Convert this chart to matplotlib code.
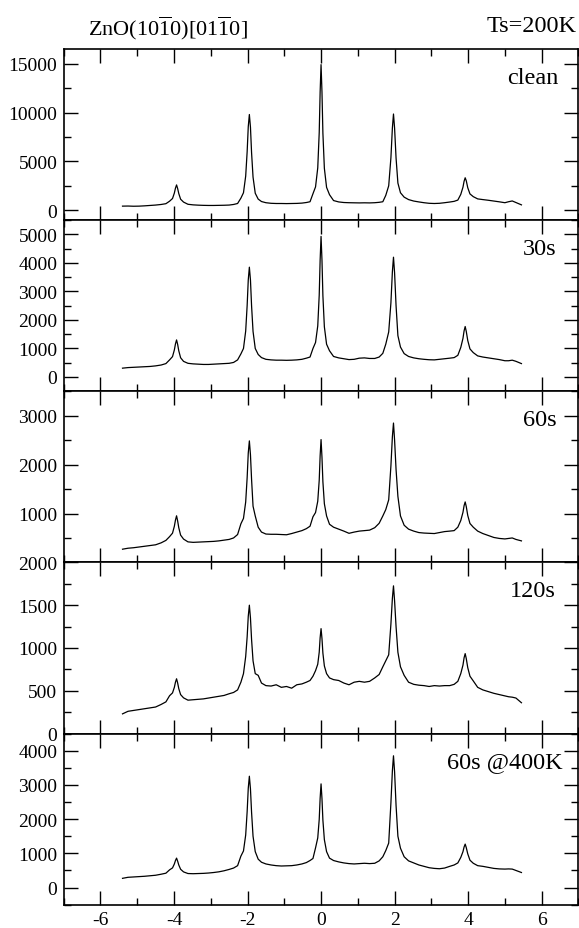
import matplotlib
matplotlib.use('Agg')
import matplotlib.pyplot as plt
from matplotlib.ticker import MultipleLocator

plt.rcParams['font.family'] = ['Liberation Serif', 'DejaVu Serif']
plt.rcParams['mathtext.fontset'] = 'custom'
plt.rcParams['mathtext.rm'] = 'Liberation Serif'

# scan position (shared by all scans)
x = [-5.40, -5.25, -5.10, -4.95, -4.80, -4.65, -4.50, -4.35, -4.22,
     -4.12, -4.04, -3.99, -3.96, -3.93, -3.90, -3.87, -3.82, -3.74,
     -3.62, -3.48, -3.34, -3.20, -3.06, -2.92, -2.78, -2.64, -2.50, -2.38, -2.27,
     -2.18, -2.11, -2.05, -2.01, -1.98, -1.95, -1.92, -1.89, -1.85, -1.79, -1.71, -1.62,
     -1.50, -1.36, -1.22, -1.08, -0.94, -0.80, -0.66, -0.52, -0.40, -0.30,
     -0.22, -0.15, -0.09, -0.05, -0.025, 0.0, 0.025, 0.05, 0.09, 0.15, 0.23,
     0.34, 0.48, 0.62, 0.76, 0.90, 1.04, 1.18, 1.32, 1.46, 1.58, 1.68,
     1.76, 1.84, 1.90, 1.94, 1.97, 2.00, 2.04, 2.09, 2.16, 2.26,
     2.38, 2.52, 2.66, 2.80, 2.94, 3.08, 3.22, 3.36, 3.50, 3.62, 3.72,
     3.80, 3.86, 3.89, 3.92, 3.95, 3.99, 4.05, 4.14,
     4.26, 4.40, 4.55, 4.70, 4.85, 5.00, 5.10, 5.20, 5.30, 5.45]

clean = [430, 440, 420, 430, 460, 500, 540, 600, 680,
         935, 1210, 1770, 2270, 2600, 2220, 1720, 1140, 845,
         620, 560, 530, 510, 500, 500, 510, 520, 540, 600, 700,
         1250, 1800, 3500, 6000, 8550, 9800, 8500, 5900, 3400, 1750, 1150, 900,
         780, 720, 700, 700, 690, 700, 710, 740, 800, 880,
         1700, 2400, 4340, 7950, 12100, 14900, 12100, 7900, 4300, 2350, 1600,
         1000, 860, 800, 780, 770, 760, 770, 760, 780, 820, 880,
         1530, 2510, 5380, 8420, 9850, 8400, 5350, 2790, 1800, 1350,
         1100, 950, 860, 780, 720, 700, 720, 780, 850, 920, 1050,
         1630, 2370, 2970, 3330, 3020, 2315, 1680, 1400,
         1170, 1100, 1030, 950, 870, 780, 880, 960, 800, 560]

s30 = [310, 330, 340, 350, 360, 370, 390, 420, 470,
       600, 715, 950, 1160, 1300, 1140, 920, 675, 548,
       480, 460, 450, 440, 440, 450, 460, 470, 480, 510, 600,
       810, 1000, 1610, 2510, 3400, 3850, 3400, 2500, 1600, 1000, 790, 680,
       620, 600, 590, 590, 585, 590, 600, 620, 660, 700,
       1000, 1210, 1790, 2870, 4100, 4930, 4100, 2850, 1760, 1150, 920,
       720, 670, 640, 610, 620, 660, 670, 650, 650, 700, 830,
       1150, 1580, 2600, 3690, 4200, 3650, 2500, 1450, 1050, 820,
       720, 670, 640, 620, 605, 600, 620, 640, 660, 680, 760,
       1035, 1355, 1615, 1770, 1595, 1280, 985, 855,
       740, 700, 670, 640, 610, 570, 570, 590, 550, 470]

s60 = [270, 290, 300, 315, 330, 345, 360, 400, 450,
       527, 598, 740, 865, 953, 845, 710, 558, 477,
       420, 410, 415, 420, 425, 430, 440, 455, 470, 500, 570,
       790, 900, 1235, 1735, 2235, 2485, 2200, 1700, 1150, 950, 720, 620,
       580, 575, 575, 570, 565, 590, 620, 650, 690, 740,
       933, 1020, 1250, 1680, 2180, 2512, 2150, 1650, 1200, 950, 780,
       720, 680, 640, 595, 620, 640, 650, 660, 710, 800, 950,
       1080, 1280, 1975, 2570, 2850, 2500, 1900, 1350, 950, 760,
       680, 640, 610, 600, 595, 590, 610, 630, 640, 650, 720,
       856, 1025, 1160, 1237, 1140, 960, 796, 720,
       640, 590, 550, 510, 490, 480, 490, 500, 470, 440]

s120 = [230, 260, 270, 280, 290, 300, 310, 340, 370,
        442, 475, 540, 600, 640, 590, 525, 455, 417,
        390, 395, 400, 405, 415, 425, 435, 445, 465, 480, 510,
        600, 700, 900, 1130, 1370, 1500, 1350, 1100, 850, 700, 680, 590,
        560, 555, 570, 540, 550, 530, 570, 580, 600, 620,
        670, 735, 810, 950, 1120, 1226, 1110, 940, 790, 700, 650,
        630, 620, 590, 570, 600, 610, 600, 610, 650, 690, 780,
        850, 920, 1280, 1580, 1726, 1550, 1250, 950, 780, 680,
        600, 575, 565, 560, 550, 560, 555, 560, 560, 575, 610,
        700, 800, 885, 934, 875, 770, 670, 615,
        540, 510, 490, 470, 455, 440, 430, 425, 415, 360]

s60_400 = [270, 300, 310, 320, 330, 345, 360, 390, 420,
           518, 575, 690, 790, 860, 770, 660, 535, 458,
           410, 405, 410, 415, 425, 440, 460, 490, 530, 570, 640,
           920, 1070, 1535, 2220, 2900, 3253, 2880, 2200, 1500, 1050, 830, 740,
           690, 660, 640, 630, 635, 640, 660, 690, 730, 790,
           850, 1160, 1450, 1990, 2610, 3029, 2600, 1970, 1400, 1050, 860,
           790, 750, 720, 700, 690, 700, 710, 700, 710, 780, 900,
           1080, 1300, 2475, 3410, 3850, 3380, 2400, 1500, 1150, 900,
           780, 720, 660, 620, 580, 560, 550, 570, 620, 660, 720,
           880, 1050, 1185, 1270, 1165, 985, 800, 710,
           640, 620, 590, 560, 545, 540, 545, 540, 500, 440]

series = [clean, s30, s60, s120, s60_400]
labels = ['clean', '30s', '60s', '120s', '60s @400K']
ylims = [(-1000, 16500), (-500, 5500), (0, 3500), (0, 2000), (-500, 4500)]
ymajor = [5000, 1000, 1000, 500, 1000]
yticks = [[0, 5000, 10000, 15000], [0, 1000, 2000, 3000, 4000, 5000],
          [1000, 2000, 3000], [0, 500, 1000, 1500, 2000], [0, 1000, 2000, 3000, 4000]]
label_x = [0.961, 0.957, 0.957, 0.955, 0.969]

fig, axes = plt.subplots(5, 1, figsize=(5.79, 9.29), dpi=100, sharex=True)
fig.subplots_adjust(left=0.110, right=0.999, top=0.9462, bottom=0.0251, hspace=0)

for ax, y, lab, yl, ym, yt, lx in zip(axes, series, labels, ylims, ymajor, yticks, label_x):
    ax.plot(x, y, color='black', lw=0.9)
    ax.set_xlim(-7, 7)
    ax.set_ylim(*yl)
    ax.set_yticks(yt)
    ax.yaxis.set_minor_locator(MultipleLocator(ym / 2))
    ax.xaxis.set_major_locator(MultipleLocator(2))
    ax.xaxis.set_minor_locator(MultipleLocator(1))
    ax.tick_params(which='both', direction='in', top=True, right=True, labelsize=14, pad=4.5)
    ax.tick_params(which='major', length=10, width=1)
    ax.tick_params(which='minor', length=5, width=1)
    for sp in ax.spines.values():
        sp.set_linewidth(1.2)
    ax.text(lx, 0.836, lab, transform=ax.transAxes, ha='right', va='center', fontsize=17.5)

axes[-1].set_xticks([-6, -4, -2, 0, 2, 4, 6])
axes[-1].set_xticklabels(['-6', '-4', '-2', '0', '2', '4', '6'])

fig.text(88 / 579, 1 - 28 / 929, r'ZnO(10$\overline{\mathrm{1}}$0)[01$\overline{\mathrm{1}}$0]',
         ha='left', va='center', fontsize=16)
fig.text(577 / 579, 1 - 27 / 929, 'Ts=200K', ha='right', va='center', fontsize=17.5)

fig.savefig('out.png', dpi=100)
